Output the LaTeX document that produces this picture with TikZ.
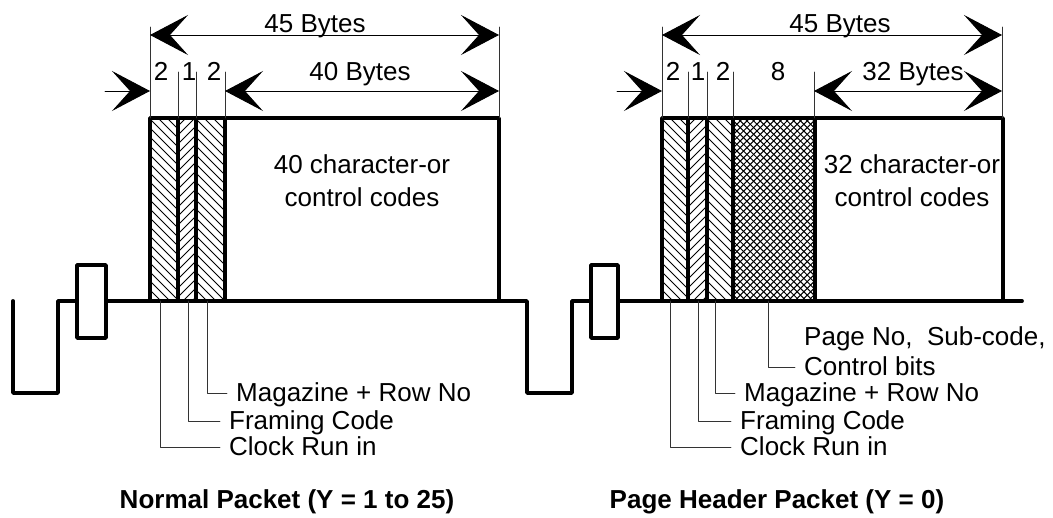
\documentclass[tikz,border=0pt]{standalone}
\usepackage{fontspec}
\setmainfont{Liberation Sans}
\usetikzlibrary{arrows.meta,positioning}

\begin{document}
\begin{tikzpicture}[
    x=1pt, y=-1pt,
    >={Stealth[length=38pt,width=40pt,inset=18pt]},
    line cap=round,
    line join=round,
    font=\fontsize{26}{33}\selectfont,
    wire/.style={line width=3.8pt},
    dimline/.style={line width=0.9pt},
    extline/.style={line width=0.8pt,black!80},
    leader/.style={line width=0.8pt,black!80},
    hatch/.style={line width=1pt,line cap=butt},
    lbl/.style={anchor=west,inner xsep=9pt,inner ysep=0pt,text height=18pt,text depth=0pt},
    num/.style={inner sep=0pt,text height=18pt,text depth=0pt},
    caption/.style={font=\fontsize{26}{30}\selectfont\bfseries}
]

% Page size
\useasboundingbox (0,0) rectangle (1053,518);

% Normal packet: hatched bytes
\begin{scope}
  \clip (150,118) rectangle (178,301);
  \foreach \s in {-190,-181,...,40}
    \draw[hatch] (150+\s,118) -- ++(183,183);
\end{scope}
\begin{scope}
  \clip (178,118) rectangle (196,301);
  \foreach \s in {-10,-1,...,210}
    \draw[hatch] (178+\s,118) -- ++(-183,183);
\end{scope}
\begin{scope}
  \clip (196,118) rectangle (225,301);
  \foreach \s in {-190,-181,...,40}
    \draw[hatch] (196+\s,118) -- ++(183,183);
\end{scope}

% Page header packet: hatched bytes
\begin{scope}
  \clip (662,118) rectangle (688,301);
  \foreach \s in {-190,-181,...,40}
    \draw[hatch] (662+\s,118) -- ++(183,183);
\end{scope}
\begin{scope}
  \clip (688,118) rectangle (707,301);
  \foreach \s in {-10,-1,...,210}
    \draw[hatch] (688+\s,118) -- ++(-183,183);
\end{scope}
\begin{scope}
  \clip (707,118) rectangle (733,301);
  \foreach \s in {-190,-181,...,40}
    \draw[hatch] (707+\s,118) -- ++(183,183);
\end{scope}
\begin{scope}
  \clip (733,118) rectangle (815,301);
  \foreach \s in {-190,-183.3,...,90}
    \draw[hatch] (733+\s,118) -- ++(183,183);
  \foreach \s in {-10,-3.3,...,280}
    \draw[hatch] (733+\s,118) -- ++(-183,183);
\end{scope}

% Signal line with sync pulses
\draw[wire]
    (13,301) -- (13,393) -- (58,393) -- (58,301) -- (77,301)
    (77,265) rectangle (106,338)
    (106,301) -- (527,301) -- (527,393) -- (572,393) -- (572,301) -- (591,301)
    (591,265) rectangle (618,338)
    (618,301) -- (1022,301);

% Packet outlines
\draw[wire] (150,301) -- (150,118) -- (499,118) -- (499,301);
\draw[wire] (178,118) -- (178,301);
\draw[wire] (196,118) -- (196,301);
\draw[wire] (225,118) -- (225,301);

\draw[wire] (662,301) -- (662,118) -- (1003,118) -- (1003,301);
\draw[wire] (688,118) -- (688,301);
\draw[wire] (707,118) -- (707,301);
\draw[wire] (733,118) -- (733,301);
\draw[wire] (815,118) -- (815,301);

% Extension lines
\draw[extline] (150,27) -- (150,118) (499,27) -- (499,118);
\draw[extline] (178,72) -- (178,118) (196,72) -- (196,118) (225,72) -- (225,118);
\draw[extline] (662,27) -- (662,118) (1002,27) -- (1002,118);
\draw[extline] (688,72) -- (688,118) (707,72) -- (707,118)
    (733,72) -- (733,118) (814,72) -- (814,118);

% Dimension end points
\coordinate (totL1) at (150,35);
\coordinate (totL2) at (499,35);
\coordinate (datL1) at (225,91);
\coordinate (datL2) at (499,91);
\coordinate (inL1)  at (105,91);
\coordinate (inL2)  at (150,91);
\coordinate (totR1) at (662,35);
\coordinate (totR2) at (1002,35);
\coordinate (datR1) at (814,91);
\coordinate (datR2) at (1002,91);
\coordinate (inR1)  at (617,91);
\coordinate (inR2)  at (662,91);

% Dimension arrows
\draw[dimline,<->] (totL1) -- (totL2);
\draw[dimline,<->] (datL1) -- (datL2);
\draw[dimline,->]  (inL1) -- (inL2);
\draw[dimline,<->] (totR1) -- (totR2);
\draw[dimline,<->] (datR1) -- (datR2);
\draw[dimline,->]  (inR1) -- (inR2);

% Dimension labels
\node[num] (totLtxt) at (315,24) {45 Bytes};
\node[num] (datLtxt) at (360,72) {40 Bytes};
\node[num] (nL1) at (161,72) {2};
\node[num] (nL2) at (189,72) {1};
\node[num] (nL3) at (214,72) {2};

\node[num] (totRtxt) at (840,24) {45 Bytes};
\node[num] (datRtxt) at (913,72) {32 Bytes};
\node[num] (nR1) at (673,72) {2};
\node[num] (nR2) at (698,72) {1};
\node[num] (nR3) at (723,72) {2};
\node[num] (nR4) at (778,72) {8};

% Payload text
\node[align=center,anchor=base] (dataL) at (362,207) {40 character-or\\control codes};
\node[align=center,anchor=base] (dataR) at (912,207) {32 character-or\\control codes};

% Leader labels, normal packet
\node[lbl] (magL) at (227,393) {Magazine + Row No};
\node[lbl] (frmL) at (220,421) {Framing Code};
\node[lbl] (clkL) at (220,447) {Clock Run in};

\coordinate (magLs) at (207,301);
\coordinate (frmLs) at (188,301);
\coordinate (clkLs) at (160,301);

\draw[leader] (magLs) |- (magL.west);
\draw[leader] (frmLs) |- (frmL.west);
\draw[leader] (clkLs) |- (clkL.west);

% Leader labels, page header packet
\node[lbl] (pageA) at (795,337) {Page No,\ \ Sub-code,};
\node[lbl] (pageB) at (795,367) {Control bits};
\node[lbl] (magR) at (735,393) {Magazine + Row No};
\node[lbl] (frmR) at (731,421) {Framing Code};
\node[lbl] (clkR) at (731,447) {Clock Run in};

\coordinate (pageRs) at (768,301);
\coordinate (magRs) at (715,301);
\coordinate (frmRs) at (698,301);
\coordinate (clkRs) at (670,301);

\draw[leader] (pageRs) |- (pageB.west);
\draw[leader] (magRs) |- (magR.west);
\draw[leader] (frmRs) |- (frmR.west);
\draw[leader] (clkRs) |- (clkR.west);

% Captions
\node[caption] (capL) at (287,502) {Normal Packet (Y = 1 to 25)};
\node[caption] (capR) at (777,502) {Page Header Packet (Y = 0)};

\end{tikzpicture}
\end{document}
